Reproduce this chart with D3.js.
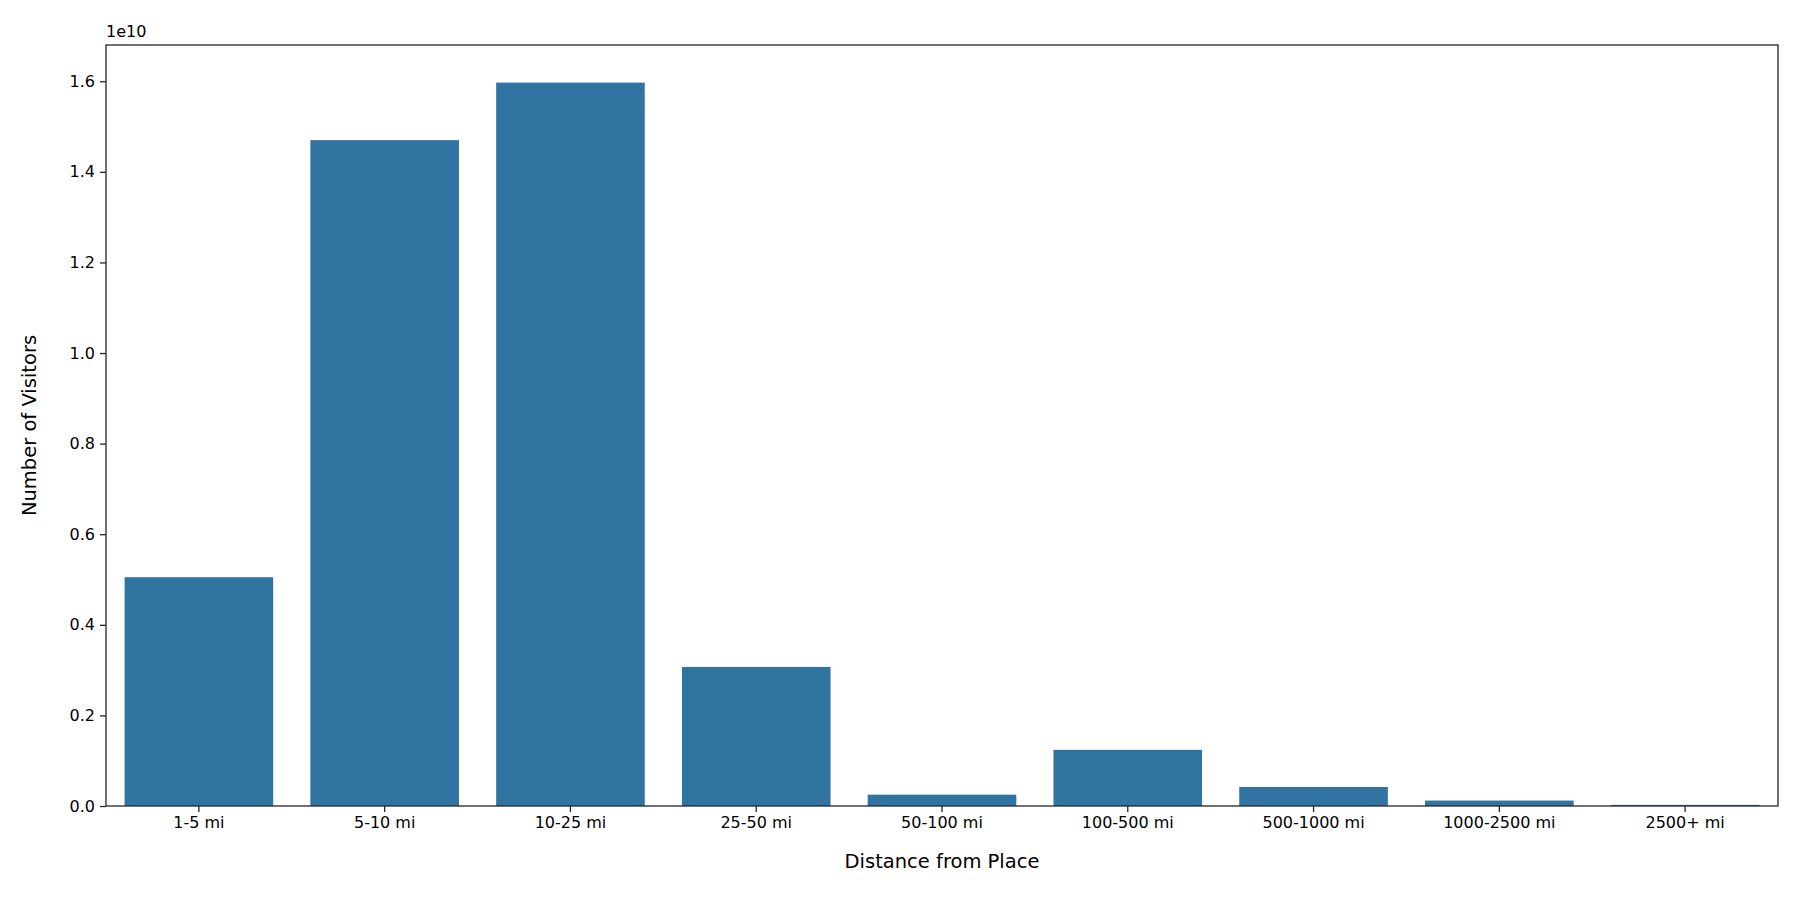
<!DOCTYPE html>
<html>
<head>
<meta charset="utf-8">
<script src="https://cdn.jsdelivr.net/npm/d3@7"></script>
<style>
body { margin: 0; background: #fff; }
text { font-family: "DejaVu Sans", sans-serif; fill: #000; }
</style>
</head>
<body>
<script>
const categories = ['1-5 mi', '5-10 mi', '10-25 mi', '25-50 mi', '50-100 mi', '100-500 mi', '500-1000 mi', '1000-2500 mi', '2500+ mi']
const visitors = [5.05e9, 14.7e9, 15.97e9, 3.07e9, 0.25e9, 1.24e9, 0.42e9, 0.12e9, 0.025e9]
const yTicks = [0, 0.2e10, 0.4e10, 0.6e10, 0.8e10, 1.0e10, 1.2e10, 1.4e10, 1.6e10]

const margin = { top: 45, right: 22, bottom: 94, left: 106 }
const width = 1800 - margin.left - margin.right
const height = 900 - margin.top - margin.bottom

const svg = d3.select('body').append('svg')
    .attr('width', 1800)
    .attr('height', 900)

const g = svg.append('g')
    .attr('transform', `translate(${margin.left},${margin.top})`)

const x = d3.scaleBand()
    .domain(categories)
    .range([0, width])
    .paddingInner(0.2)
    .paddingOuter(0.1)

const y = d3.scaleLinear()
    .domain([0, 1.68e10])
    .range([height, 0])

g.selectAll('rect.bar')
    .data(categories)
    .enter().append('rect')
    .attr('class', 'bar')
    .attr('x', d => x(d))
    .attr('width', x.bandwidth())
    .attr('y', (d, i) => y(visitors[i]))
    .attr('height', (d, i) => y(0) - y(visitors[i]))
    .attr('fill', '#3274a1')

const xAxis = g.append('g')
    .attr('transform', `translate(0,${height})`)
    .call(d3.axisBottom(x).tickSize(6).tickPadding(5))
const yAxis = g.append('g')
    .call(d3.axisLeft(y).tickValues(yTicks).tickFormat(d => (d / 1e10).toFixed(1)).tickSize(6).tickPadding(5))

for (const ax of [xAxis, yAxis]) {
    ax.select('.domain').remove()
    ax.selectAll('line').attr('stroke', '#262626').attr('stroke-width', 1.3)
    ax.selectAll('text').style('font-size', '16px').attr('fill', '#000')
}

// frame
g.append('rect')
    .attr('width', width).attr('height', height)
    .attr('fill', 'none').attr('stroke', '#262626').attr('stroke-width', 1.3)

g.append('text')
    .attr('x', 0).attr('y', -8)
    .style('font-size', '16px')
    .text('1e10')

g.append('text')
    .attr('x', width / 2).attr('y', height + 62)
    .attr('text-anchor', 'middle')
    .style('font-size', '19.5px')
    .text('Distance from Place')

g.append('text')
    .attr('transform', `translate(${-70},${height / 2}) rotate(-90)`)
    .attr('text-anchor', 'middle')
    .style('font-size', '19.5px')
    .text('Number of Visitors')
</script>
</body>
</html>
